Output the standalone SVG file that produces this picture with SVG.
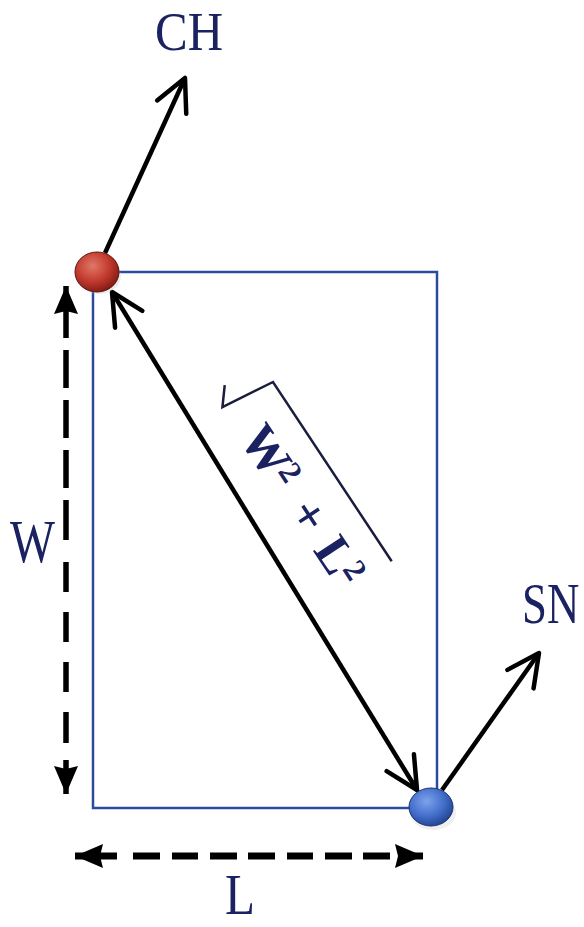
<svg xmlns="http://www.w3.org/2000/svg" width="584" height="927" viewBox="0 0 584 927">
  <style>
    .lbl { font-family: "Liberation Serif", "Times New Roman", serif; fill: #1b2262; }
    .field { fill: none; stroke: #2d4b9c; stroke-width: 2.5; }
    .arrow { fill: none; stroke: #000; stroke-width: 4.5; stroke-linecap: butt; }
    .dash { fill: none; stroke: #000; }
    .rad { fill: none; stroke: #1a1d3c; stroke-width: 2.5; stroke-linejoin: miter; }
  </style>
  <defs>
    <marker id="open" markerUnits="userSpaceOnUse" viewBox="-40 -22 48 44" refX="0" refY="0" markerWidth="48" markerHeight="44" orient="auto-start-reverse" overflow="visible">
      <path d="M-32,-16 L0,0 L-32,16" fill="none" stroke="#000" stroke-width="4.5" stroke-linecap="round" stroke-linejoin="round"/>
    </marker>
    <marker id="solid" markerUnits="userSpaceOnUse" viewBox="-32 -16 34 32" refX="0" refY="0" markerWidth="34" markerHeight="32" orient="auto-start-reverse" overflow="visible">
      <path d="M0,0 L-28,-12 L-25,0 L-28,12 Z" fill="#000"/>
    </marker>
    <radialGradient id="redBall" cx="0.4" cy="0.35" r="0.7">
      <stop offset="0" stop-color="#e07868"/>
      <stop offset="0.55" stop-color="#c23a2e"/>
      <stop offset="1" stop-color="#7a1812"/>
    </radialGradient>
    <radialGradient id="blueBall" cx="0.4" cy="0.35" r="0.7">
      <stop offset="0" stop-color="#7ea2ec"/>
      <stop offset="0.55" stop-color="#4470cc"/>
      <stop offset="1" stop-color="#1f3f8e"/>
    </radialGradient>
  </defs>

  <g id="field">
    <rect class="field" x="93" y="272" width="344" height="536"/>
  </g>

  <g id="connectors">
    <line class="arrow" x1="105" y1="253" x2="185" y2="78" marker-end="url(#open)"/>
    <line class="arrow" x1="442" y1="790" x2="539" y2="653" marker-end="url(#open)"/>
    <line class="arrow" x1="112" y1="292" x2="417" y2="790" marker-start="url(#open)" marker-end="url(#open)"/>
    <line class="dash" x1="66" y1="286" x2="66" y2="794" stroke-width="5.5" stroke-dasharray="52 12 38 12 38 12 38 12 40 22 30 20 30 20 30 20 31 17 60" marker-start="url(#solid)" marker-end="url(#solid)"/>
    <line class="dash" x1="75" y1="856" x2="423" y2="856" stroke-width="7" stroke-dasharray="42 16 27 12 26 12 27 11 27 12 26 12 27 11 27 10 40" marker-start="url(#solid)" marker-end="url(#solid)"/>
  </g>

  <g id="ch-node">
    <ellipse cx="99" cy="276" rx="22" ry="18" fill="#c8c8c8" opacity="0.35"/>
    <ellipse cx="97" cy="272" rx="22" ry="20" fill="url(#redBall)" stroke="#5e1410" stroke-width="1"/>
  </g>

  <g id="sn-node">
    <ellipse cx="433" cy="813" rx="23" ry="17" fill="#d0d0d0" opacity="0.35"/>
    <ellipse cx="431" cy="807" rx="22" ry="19" fill="url(#blueBall)" stroke="#1a3370" stroke-width="1"/>
  </g>

  <g id="label-ch">
    <text class="lbl" x="155" y="50" font-size="55" textLength="68" lengthAdjust="spacingAndGlyphs">CH</text>
  </g>
  <g id="label-sn">
    <text class="lbl" transform="translate(522,623) scale(0.8,1)" x="0" y="0" font-size="56">SN</text>
  </g>
  <g id="label-w">
    <text class="lbl" x="10" y="562" font-size="62" textLength="45" lengthAdjust="spacingAndGlyphs">W</text>
  </g>
  <g id="label-l">
    <text class="lbl" x="225" y="914" font-size="56" textLength="30" lengthAdjust="spacingAndGlyphs">L</text>
  </g>

  <g id="label-diag" transform="translate(273,382) rotate(56.5)">
    <path class="rad" d="M215,0 H0 L-7,56 L-24,42"/>
    <text class="lbl" font-size="50" font-weight="bold">
      <tspan x="28" y="60">W</tspan><tspan x="77" y="46" font-size="32">2</tspan><tspan x="117" y="60">+</tspan><tspan x="162" y="60">L</tspan><tspan x="194" y="46" font-size="32">2</tspan>
    </text>
  </g>
</svg>
